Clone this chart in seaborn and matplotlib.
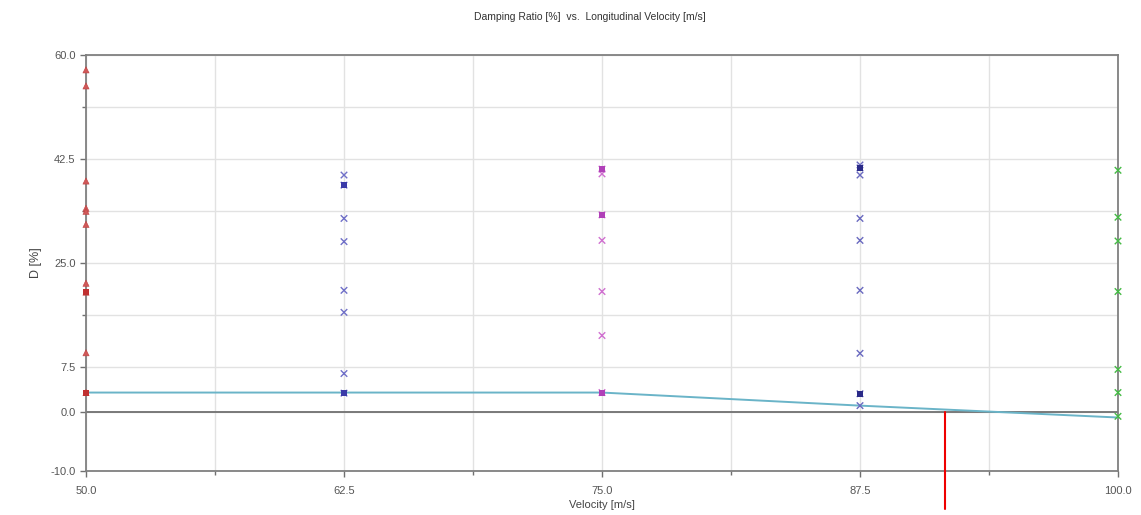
import numpy as np
import pandas as pd
import matplotlib
matplotlib.use("Agg")
import matplotlib.pyplot as plt
from matplotlib.ticker import MultipleLocator, FixedLocator
import seaborn as sns

# ---- data ----
vel_50 = 50.0
d_50 = [57.5, 54.8, 38.8, 34.2, 33.7, 31.5, 21.6, 20.1, 9.9, 3.2]
vel_62 = 62.5
d_62 = [39.8, 38.1, 32.5, 28.6, 20.4, 16.7, 6.4, 3.1]
vel_75 = 75.0
d_75 = [40.8, 40.0, 33.1, 28.8, 20.2, 12.8, 3.2]
vel_87 = 87.5
d_87 = [41.5, 41.0, 39.8, 32.5, 28.8, 20.4, 9.8, 3.0, 1.0]
vel_100 = 100.0
d_100 = [40.6, 32.7, 28.7, 20.2, 7.1, 3.2, -0.8]

# dense (overlapping) points drawn filled
dense_vel = [50.0, 50.0, 62.5, 62.5, 75.0, 75.0, 75.0, 87.5, 87.5]
dense_d = [20.1, 3.2, 38.1, 3.1, 40.8, 33.1, 3.2, 41.0, 3.0]
dense_grp = ["v50", "v50", "v62", "v62", "v75", "v75", "v75", "v87", "v87"]

line_vel = [50.0, 62.5, 75.0, 87.5, 100.0]
line_d = [3.2, 3.2, 3.2, 1.0, -1.0]

crit_vel = 91.6

x_ticks = [50.0, 62.5, 75.0, 87.5, 100.0]
y_ticks = [-10.0, 0.0, 7.5, 25.0, 42.5, 60.0]

title = "Damping Ratio [%]  vs.  Longitudinal Velocity [m/s]"
xlabel = "Velocity [m/s]"
ylabel = "D [%]"

# ---- build frames ----
rows = []
for v, ds, g in [(vel_50, d_50, "v50"), (vel_62, d_62, "v62"), (vel_75, d_75, "v75"),
                 (vel_87, d_87, "v87"), (vel_100, d_100, "v100")]:
    for d in ds:
        rows.append((v, d, g))
pts = pd.DataFrame(rows, columns=["vel", "d", "grp"])
dense = pd.DataFrame({"vel": dense_vel, "d": dense_d, "grp": dense_grp})
line = pd.DataFrame({"vel": line_vel, "d": line_d})

light_pal = {"v50": "#d05858", "v62": "#7070c8", "v75": "#d070d0", "v87": "#6a6ac0", "v100": "#44bb44"}
dark_pal = {"v50": "#c03030", "v62": "#3a3aa8", "v75": "#b040b8", "v87": "#2a2a88", "v100": "#30a030"}

sns.set_theme(style="white")
plt.rcParams["font.family"] = ["Liberation Sans", "DejaVu Sans"]

fig = plt.figure(figsize=(11.41, 5.15), dpi=100)
ax = fig.add_axes([86 / 1141, 44 / 515, (1118 - 86) / 1141, (471 - 55) / 515])

# grid
ax.set_xlim(50, 100)
ax.set_ylim(-10, 60)
ax.xaxis.set_major_locator(FixedLocator(x_ticks))
ax.xaxis.set_minor_locator(MultipleLocator(6.25))
ax.yaxis.set_major_locator(FixedLocator(y_ticks))
ax.yaxis.set_minor_locator(FixedLocator([16.25, 33.75, 51.25]))
ax.grid(True, which="both", color="#e2e2e2", linewidth=1.0)
ax.set_axisbelow(True)

# zero line
ax.axhline(0, color="#707070", linewidth=1.3, zorder=2)

# line
sns.lineplot(data=line, x="vel", y="d", ax=ax, color="#6ab4c8", linewidth=1.4,
             zorder=3, legend=False)

n_before = len(ax.collections)
# light x markers
sns.scatterplot(data=pts[pts.grp != "v50"], x="vel", y="d", hue="grp",
                palette=light_pal, marker="x", s=22, linewidth=1.0, ax=ax, legend=False)
sns.scatterplot(data=pts[pts.grp == "v50"], x="vel", y="d", hue="grp", palette=light_pal,
                marker="^", s=20, linewidth=0.4, edgecolor="#c04040", ax=ax, legend=False)
# dense filled markers
sns.scatterplot(data=dense, x="vel", y="d", hue="grp", palette=dark_pal,
                marker="s", s=18, linewidth=0, ax=ax, legend=False)
for i, coll in enumerate(ax.collections[n_before:]):
    coll.set_clip_on(False)
    coll.set_zorder(6 + i * 0.1)

# critical velocity marker
ax.plot([crit_vel, crit_vel], [0, -16.4], color="#ee0000", linewidth=1.5,
        clip_on=False, zorder=6)

# styling
for sp in ax.spines.values():
    sp.set_color("#808080")
    sp.set_linewidth(1.3)
ax.tick_params(axis="both", which="major", direction="out", length=4, width=1,
               color="#707070", labelsize=8, labelcolor="#555555", left=True, bottom=True)
ax.tick_params(axis="x", which="major", pad=7)
ax.tick_params(axis="both", which="minor", direction="out", length=3, width=1,
               color="#707070", left=True, bottom=True)
ax.set_xticklabels([f"{t:.1f}" for t in x_ticks])
ax.set_yticklabels([f"{t:.1f}" for t in y_ticks])

ax.set_xlabel(xlabel, fontsize=8, color="#444444", labelpad=3)
ax.set_ylabel(ylabel, fontsize=9, color="#444444", labelpad=6)
fig.text(590 / 1141, 1 - 17 / 515, title, ha="center", va="center", fontsize=7.5, color="#333333")

fig.savefig("out.png", dpi=100)
